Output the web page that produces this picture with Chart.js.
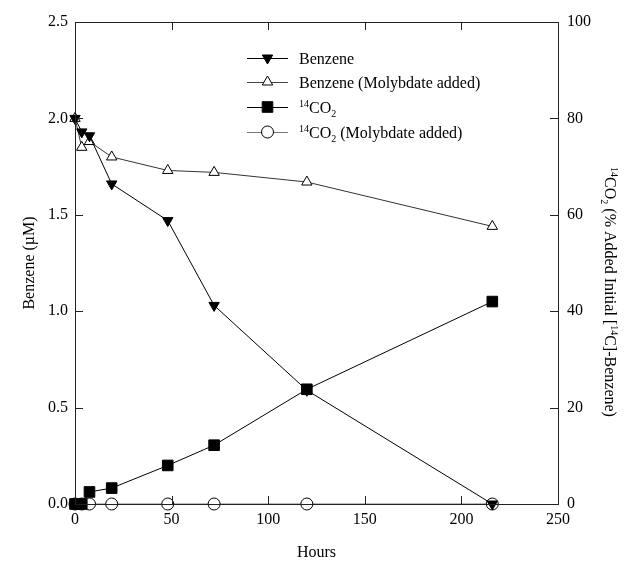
<!DOCTYPE html>
<html>
<head>
<meta charset="utf-8">
<script src="https://cdn.jsdelivr.net/npm/chart.js@4.4.1/dist/chart.umd.min.js"></script>
<style>
  html, body { margin: 0; padding: 0; background: #fff; }
  #wrap { width: 638px; height: 567px; }
</style>
</head>
<body>
<div id="wrap"><canvas id="chart" width="638" height="567"></canvas></div>
<script>
// data
const hours = [0, 3.5, 7.5, 19, 48, 72, 120, 216];
const benzene = [2.0, 1.93, 1.91, 1.66, 1.47, 1.03, 0.59, 0.0];
const benzeneMo = [2.0, 1.85, 1.88, 1.80, 1.73, 1.72, 1.67, 1.44];
const co2 = [0, 0, 2.5, 3.3, 8.0, 12.2, 23.8, 42.0];
const co2Mo = [0, 0, 0, 0, 0, 0, 0, 0];

const xTicks = [0, 50, 100, 150, 200, 250];
const yTicks = [0, 0.5, 1.0, 1.5, 2.0, 2.5];
const y1Ticks = [0, 20, 40, 60, 80, 100];

const FONT = "'Liberation Serif', 'DejaVu Serif', serif";

const pts = (xs, ys) => xs.map((x, i) => ({ x: x, y: ys[i] }));

const legendItems = [
  { label: [{ t: "Benzene" }], style: "triangle", r: 6, rot: 180, fill: "#000", line: "#000" },
  { label: [{ t: "Benzene (Molybdate added)" }], style: "triangle", r: 6, rot: 0, fill: "#fff", line: "#444" },
  { label: [{ t: "14", sup: true }, { t: "CO" }, { t: "2", sub: true }], style: "rect", r: 7.5, rot: 0, fill: "#000", line: "#000" },
  { label: [{ t: "14", sup: true }, { t: "CO" }, { t: "2", sub: true }, { t: " (Molybdate added)" }], style: "circle", r: 6, rot: 0, fill: "#fff", line: "#777" },
];

// draws text with superscripts / subscripts, centred on x when align is 'center'
function richText(ctx, segs, x, y, size, align) {
  const small = Math.round(size * 0.62);
  let w = 0;
  segs.forEach(s => {
    ctx.font = (s.sup || s.sub ? small : size) + "px " + FONT;
    w += ctx.measureText(s.t).width;
  });
  let cx = align === "center" ? x - w / 2 : x;
  ctx.textBaseline = "alphabetic";
  ctx.textAlign = "left";
  segs.forEach(s => {
    ctx.font = (s.sup || s.sub ? small : size) + "px " + FONT;
    let dy = 0;
    if (s.sup) dy = -size * 0.38;
    if (s.sub) dy = size * 0.22;
    ctx.fillText(s.t, cx, y + dy);
    cx += ctx.measureText(s.t).width;
  });
}

const decor = {
  id: "decor",
  afterDraw(chart) {
    const ctx = chart.ctx;
    const a = chart.chartArea;
    const sx = chart.scales.x, sy = chart.scales.y, sy1 = chart.scales.y1;
    ctx.save();
    ctx.strokeStyle = "#222";
    ctx.lineWidth = 1;
    ctx.strokeRect(Math.round(a.left) + 0.5, Math.round(a.top) + 0.5, Math.round(a.right - a.left), Math.round(a.bottom - a.top));
    const tl = 8;
    ctx.beginPath();
    xTicks.forEach(v => {
      const px = Math.round(sx.getPixelForValue(v)) + 0.5;
      ctx.moveTo(px, a.bottom); ctx.lineTo(px, a.bottom - tl);
      ctx.moveTo(px, a.top); ctx.lineTo(px, a.top + tl);
    });
    yTicks.forEach(v => {
      const py = Math.round(sy.getPixelForValue(v)) + 0.5;
      ctx.moveTo(a.left, py); ctx.lineTo(a.left + tl, py);
    });
    y1Ticks.forEach(v => {
      const py = Math.round(sy1.getPixelForValue(v)) + 0.5;
      ctx.moveTo(a.right, py); ctx.lineTo(a.right - tl, py);
    });
    ctx.stroke();

    ctx.fillStyle = "#000";
    // axis titles
    ctx.font = "16px " + FONT;
    ctx.textAlign = "center";
    ctx.textBaseline = "middle";
    ctx.fillText("Hours", (a.left + a.right) / 2, 553);
    ctx.save();
    ctx.translate(30, (a.top + a.bottom) / 2);
    ctx.rotate(-Math.PI / 2);
    ctx.fillText("Benzene (\u00b5M)", 0, 0);
    ctx.restore();
    ctx.save();
    ctx.translate(611, 292);
    ctx.rotate(Math.PI / 2);
    richText(ctx, [{ t: "14", sup: true }, { t: "CO" }, { t: "2", sub: true },
      { t: " (% Added Initial [" }, { t: "14", sup: true }, { t: "C]-Benzene)" }], 0, 6, 16, "center");
    ctx.restore();

    // legend
    const lx0 = 247, lx1 = 288, tx = 299;
    const rows = [58, 82, 107, 132];
    legendItems.forEach((it, i) => {
      const y = rows[i];
      ctx.strokeStyle = it.line;
      ctx.lineWidth = 1;
      ctx.beginPath();
      ctx.moveTo(lx0, y + 0.5); ctx.lineTo(lx1, y + 0.5);
      ctx.stroke();
      ctx.fillStyle = it.fill;
      ctx.strokeStyle = "#000";
      Chart.helpers.drawPoint(ctx, { pointStyle: it.style, radius: it.r, rotation: it.rot, borderWidth: 1 }, (lx0 + lx1) / 2, y);
      ctx.fillStyle = "#000";
      richText(ctx, it.label, tx, y + 6, 16, "left");
    });
    ctx.restore();
  }
};

const baseSet = {
  borderWidth: 1,
  pointRadius: 6,
  pointHoverRadius: 6,
  pointBorderWidth: 1,
  pointBorderColor: "#000",
  fill: false,
  tension: 0,
};

// first dataset ends up drawn on top
new Chart(document.getElementById("chart"), {
  type: "line",
  data: {
    datasets: [
      Object.assign({}, baseSet, {
        label: "14CO2", data: pts(hours, co2), yAxisID: "y1",
        borderColor: "#000", pointStyle: "rect", pointRadius: 7.5, pointHoverRadius: 7.5, pointBackgroundColor: "#000",
      }),
      Object.assign({}, baseSet, {
        label: "Benzene", data: pts(hours, benzene), yAxisID: "y",
        borderColor: "#000", pointStyle: "triangle", pointRotation: 180, pointBackgroundColor: "#000",
      }),
      Object.assign({}, baseSet, {
        label: "Benzene (Molybdate added)", data: pts(hours, benzeneMo), yAxisID: "y",
        borderColor: "#333", pointStyle: "triangle", pointBackgroundColor: "#fff",
      }),
      Object.assign({}, baseSet, {
        label: "14CO2 (Molybdate added)", data: pts(hours, co2Mo), yAxisID: "y1",
        borderColor: "#777", pointStyle: "circle", pointBackgroundColor: "#fff",
      }),
    ],
  },
  options: {
    responsive: false,
    animation: false,
    clip: false,
    layout: { padding: { top: 22, left: 0, right: 0, bottom: 0 } },
    plugins: { legend: { display: false }, tooltip: { enabled: false } },
    scales: {
      x: {
        type: "linear", min: 0, max: 250,
        grid: { display: false, drawTicks: false }, border: { display: false },
        afterBuildTicks: s => { s.ticks = xTicks.map(v => ({ value: v })); },
        afterFit: s => { s.height = 63; },
        ticks: { padding: 6, color: "#000", font: { family: FONT, size: 16 } },
      },
      y: {
        position: "left", min: 0, max: 2.5,
        grid: { display: false, drawTicks: false }, border: { display: false },
        afterBuildTicks: s => { s.ticks = yTicks.map(v => ({ value: v })); },
        afterFit: s => { s.width = 75; },
        ticks: { padding: 7, color: "#000", font: { family: FONT, size: 16 }, callback: v => v.toFixed(1) },
      },
      y1: {
        position: "right", min: 0, max: 100,
        grid: { display: false, drawTicks: false }, border: { display: false },
        afterBuildTicks: s => { s.ticks = y1Ticks.map(v => ({ value: v })); },
        afterFit: s => { s.width = 80; },
        ticks: { padding: 9, color: "#000", font: { family: FONT, size: 16 } },
      },
    },
  },
  plugins: [decor],
});
</script>
</body>
</html>
